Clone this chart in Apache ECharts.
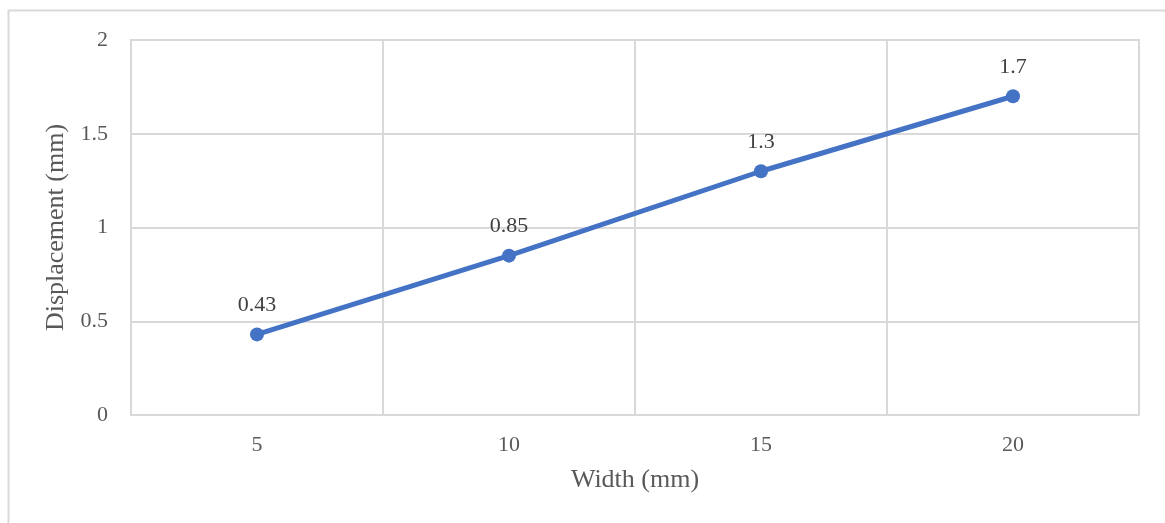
<!DOCTYPE html>
<html>
<head>
<meta charset="utf-8">
<script src="https://cdn.jsdelivr.net/npm/echarts@6/dist/echarts.min.js"></script>
<style>html,body{margin:0;padding:0;background:#fff}#c{width:1165px;height:523px}</style>
</head>
<body>
<div id="c"></div>
<script>
var categories = ['5', '10', '15', '20'];
var displacement = [0.43, 0.85, 1.3, 1.7];
var xTitle = 'Width (mm)';
var yTitle = 'Displacement (mm)';

var font = 'Liberation Serif, Times New Roman, serif';
var chart = echarts.init(document.getElementById('c'));
chart.setOption({
  animation: false,
  backgroundColor: '#fff',
  graphic: [{
    type: 'polyline',
    shape: { points: [[8.5, 523], [8.5, 10.5], [1165, 10.5]] },
    style: { stroke: '#d9d9d9', lineWidth: 2, fill: null }
  }],
  grid: { left: 131, right: 26, top: 40, bottom: 108, show: true, borderColor: '#d9d9d9', borderWidth: 2 },
  xAxis: {
    type: 'category',
    data: categories,
    boundaryGap: true,
    name: xTitle,
    nameLocation: 'middle',
    nameGap: 52,
    nameTextStyle: { fontFamily: font, fontSize: 26, color: '#595959' },
    axisLine: { lineStyle: { color: '#d9d9d9', width: 2 } },
    axisTick: { show: false },
    axisLabel: { fontFamily: font, fontSize: 22, color: '#595959', margin: 19 },
    splitLine: { show: true, lineStyle: { color: '#d9d9d9', width: 2 } }
  },
  yAxis: {
    type: 'value',
    min: 0, max: 2, interval: 0.5,
    name: yTitle,
    nameLocation: 'middle',
    nameGap: 61,
    nameTextStyle: { fontFamily: font, fontSize: 26, color: '#595959' },
    axisLine: { show: false },
    axisTick: { show: false },
    axisLabel: { fontFamily: font, fontSize: 22, color: '#595959', margin: 23 },
    splitLine: { lineStyle: { color: '#d9d9d9', width: 2 } }
  },
  series: [{
    type: 'line',
    data: displacement,
    symbol: 'circle',
    symbolSize: 14,
    lineStyle: { color: '#4472c4', width: 5 },
    itemStyle: { color: '#4472c4' },
    label: { show: true, position: 'top', distance: 11, fontFamily: font, fontSize: 22, color: '#404040' }
  }]
});
</script>
</body>
</html>
